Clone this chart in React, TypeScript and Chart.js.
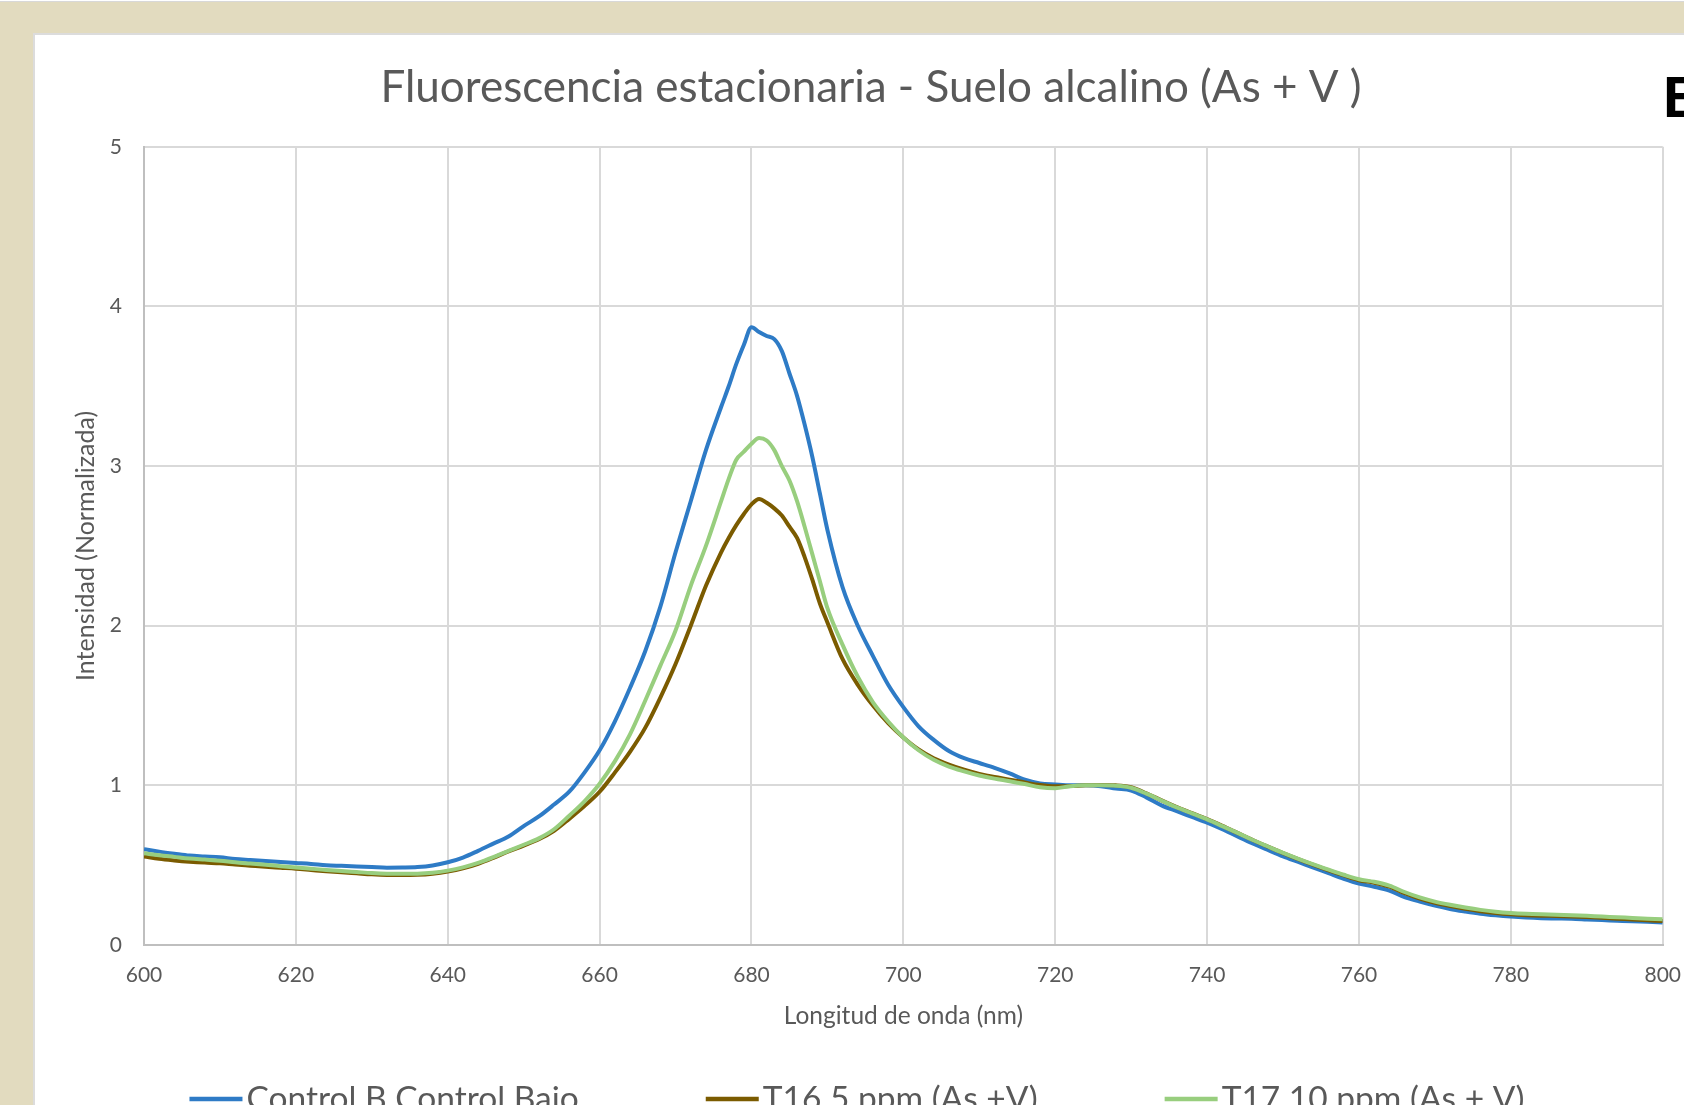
import React, { useEffect, useRef } from 'react';
import { Chart, registerables } from 'chart.js';
Chart.register(...registerables);

// Wavelength (nm)
const wavelengths = [
  600, 602, 604, 606, 608, 610, 612, 614, 616, 618, 620, 622, 624, 626, 628, 630, 632, 634, 636, 638,
  640, 642, 644, 646, 648, 650, 652, 654, 656, 658, 660, 662, 664, 666, 668, 670, 672, 674, 676,
  677, 678, 679, 680, 681, 682, 683, 684, 685, 686, 687, 688, 689, 690,
  692, 694, 696, 698, 700, 702, 704, 706, 708, 710, 712, 714, 716, 718, 720, 722, 724, 726, 728, 730,
  732, 734, 736, 738, 740, 742, 744, 746, 748, 750, 752, 754, 756, 758, 760, 762, 764, 766, 768, 770,
  772, 774, 776, 778, 780, 782, 784, 786, 788, 790, 792, 794, 796, 798, 800,
];

const controlBajo = [
  0.600, 0.585, 0.572, 0.560, 0.555, 0.550, 0.538, 0.532, 0.526, 0.520, 0.514, 0.508, 0.500, 0.496, 0.492, 0.488, 0.484, 0.485, 0.488, 0.498,
  0.518, 0.548, 0.590, 0.635, 0.680, 0.745, 0.805, 0.880, 0.960, 1.080, 1.220, 1.400, 1.610, 1.840, 2.120, 2.460, 2.780, 3.100, 3.370,
  3.500, 3.640, 3.760, 3.870, 3.840, 3.815, 3.795, 3.720, 3.580, 3.440, 3.260, 3.060, 2.830, 2.600,
  2.240, 2.000, 1.810, 1.630, 1.490, 1.370, 1.285, 1.215, 1.170, 1.140, 1.110, 1.075, 1.035, 1.012, 1.005, 1.000, 1.000, 0.995, 0.980, 0.968,
  0.925, 0.875, 0.838, 0.802, 0.766, 0.725, 0.680, 0.636, 0.595, 0.555, 0.520, 0.485, 0.450, 0.415, 0.385, 0.365, 0.340, 0.300, 0.272, 0.247,
  0.226, 0.210, 0.196, 0.186, 0.178, 0.172, 0.168, 0.166, 0.164, 0.160, 0.156, 0.152, 0.148, 0.145, 0.141,
];

const t16 = [
  0.555, 0.540, 0.530, 0.522, 0.516, 0.512, 0.504, 0.497, 0.490, 0.484, 0.478, 0.470, 0.462, 0.455, 0.449, 0.443, 0.439, 0.438, 0.440, 0.447,
  0.460, 0.480, 0.509, 0.546, 0.586, 0.623, 0.662, 0.715, 0.790, 0.870, 0.960, 1.080, 1.210, 1.360, 1.550, 1.760, 2.000, 2.250, 2.460,
  2.550, 2.630, 2.700, 2.760, 2.794, 2.770, 2.735, 2.690, 2.620, 2.550, 2.430, 2.290, 2.140, 2.020,
  1.790, 1.630, 1.500, 1.390, 1.300, 1.225, 1.170, 1.130, 1.098, 1.072, 1.052, 1.036, 1.018, 1.002, 0.994, 0.996, 1.000, 1.002, 1.000, 0.988,
  0.950, 0.906, 0.864, 0.826, 0.788, 0.746, 0.702, 0.658, 0.616, 0.576, 0.538, 0.502, 0.468, 0.436, 0.406, 0.390, 0.365, 0.325, 0.290, 0.264,
  0.244, 0.227, 0.212, 0.200, 0.192, 0.187, 0.184, 0.182, 0.179, 0.175, 0.170, 0.165, 0.160, 0.155, 0.150,
];

const t17 = [
  0.575, 0.562, 0.552, 0.542, 0.535, 0.528, 0.518, 0.510, 0.502, 0.494, 0.486, 0.478, 0.470, 0.463, 0.457, 0.451, 0.447, 0.446, 0.447, 0.453,
  0.466, 0.486, 0.514, 0.550, 0.590, 0.628, 0.668, 0.725, 0.810, 0.900, 1.010, 1.150, 1.320, 1.530, 1.750, 1.970, 2.250, 2.500, 2.780,
  2.920, 3.040, 3.090, 3.140, 3.176, 3.160, 3.100, 3.000, 2.910, 2.780, 2.620, 2.450, 2.280, 2.110,
  1.880, 1.680, 1.520, 1.400, 1.300, 1.220, 1.160, 1.118, 1.088, 1.062, 1.042, 1.026, 1.008, 0.988, 0.982, 0.995, 1.000, 1.000, 0.998, 0.985,
  0.948, 0.905, 0.862, 0.825, 0.787, 0.745, 0.702, 0.658, 0.617, 0.577, 0.540, 0.505, 0.472, 0.440, 0.412, 0.396, 0.372, 0.332, 0.298, 0.272,
  0.252, 0.235, 0.220, 0.208, 0.200, 0.195, 0.192, 0.190, 0.187, 0.183, 0.178, 0.174, 0.169, 0.165, 0.161,
];

const seriesLabels = ['Control B Control Bajo', 'T16 5 ppm (As +V)', 'T17 10 ppm (As + V)'];
const seriesColors = ['#2E7BC6', '#7B5B00', '#98CE7E'];

const titleText = 'Fluorescencia estacionaria - Suelo alcalino (As + V )';
const yTitle = 'Intensidad (Normalizada)';
const xTitle = 'Longitud de onda (nm)';

const FONT = 'Lato, "Open Sans", sans-serif';
const TEXT = '#595959';
const CANVAS_W = 1664;
const CANVAS_H = 1070;
const LEGEND_Y = 1064;

const legendPlugin = {
  id: 'customLegend',
  afterDraw(chart: any) {
    const ctx = chart.ctx;
    const ds = chart.data.datasets;
    ctx.save();
    ctx.font = `33.5px ${FONT}`;
    const lineW = 53;
    const gap = 4;
    const between = 127;
    const widths = ds.map((d: any) => lineW + gap + ctx.measureText(d.label).width);
    const total = widths.reduce((a: number, b: number) => a + b, 0) + between * (ds.length - 1);
    let x = chart.width / 2 - total / 2 - 10;
    ds.forEach((d: any, i: number) => {
      ctx.strokeStyle = d.borderColor;
      ctx.lineWidth = 4.5;
      ctx.beginPath();
      ctx.moveTo(x, LEGEND_Y);
      ctx.lineTo(x + lineW, LEGEND_Y);
      ctx.stroke();
      ctx.fillStyle = TEXT;
      ctx.textBaseline = 'middle';
      ctx.textAlign = 'left';
      ctx.fillText(d.label, x + lineW + gap, LEGEND_Y);
      x += widths[i] + between;
    });
    ctx.restore();
  },
};

export default function App() {
  const ref = useRef<HTMLCanvasElement | null>(null);

  useEffect(() => {
    if (!ref.current) return;
    const mk = (vals: number[]) => wavelengths.map((w, i) => ({ x: w, y: vals[i] }));
    const allVals = [controlBajo, t16, t17];
    const chart = new Chart(ref.current, {
      type: 'line',
      data: {
        datasets: allVals.map((vals, i) => ({
          label: seriesLabels[i],
          data: mk(vals),
          borderColor: seriesColors[i],
          backgroundColor: seriesColors[i],
          borderWidth: 4,
          pointRadius: 0,
          cubicInterpolationMode: 'monotone' as const,
          fill: false,
          order: 3 - i,
        })),
      },
      options: {
        responsive: false,
        animation: false,
        events: [],
        layout: { padding: { top: 0, left: 30, right: 22, bottom: 74 } },
        plugins: {
          legend: { display: false },
          tooltip: { enabled: false },
          title: {
            display: true,
            text: titleText,
            color: TEXT,
            font: { family: FONT, size: 44, weight: 'normal' },
            padding: { top: 26, bottom: 33 },
          },
        },
        scales: {
          x: {
            type: 'linear',
            min: 600,
            max: 800,
            ticks: { stepSize: 20, color: TEXT, font: { family: FONT, size: 21 }, padding: 18 },
            grid: { color: '#d9d9d9', lineWidth: 2, drawTicks: false },
            border: { display: true, color: '#bfbfbf', width: 2 },
            title: {
              display: true,
              text: xTitle,
              color: TEXT,
              font: { family: FONT, size: 24.5 },
              padding: { top: 10, bottom: 0 },
            },
            afterFit: (s: any) => { s.height = 86; },
          },
          y: {
            min: 0,
            max: 5,
            ticks: { stepSize: 1, color: TEXT, font: { family: FONT, size: 21 }, padding: 22 },
            grid: { color: '#d9d9d9', lineWidth: 2, drawTicks: false },
            border: { display: true, color: '#bfbfbf', width: 2 },
            title: {
              display: true,
              text: yTitle,
              color: TEXT,
              font: { family: FONT, size: 25 },
              padding: { top: 6, bottom: 0 },
            },
            afterFit: (s: any) => { s.width = 79; },
          },
        },
      },
      plugins: [legendPlugin],
    });
    return () => chart.destroy();
  }, []);

  return (
    <div style={{ position: 'fixed', left: 0, top: 0, width: 1684, height: 1105, overflow: 'hidden', background: '#E2DBBF' }}>
      <div style={{ position: 'absolute', left: 0, top: 0, width: 1684, height: 1, background: '#ffffff', borderBottom: '1px solid #d8d8d8' }} />
      <div style={{ position: 'absolute', left: 33, top: 33, width: 1700, height: 1100, background: '#ffffff', borderLeft: '2px solid #dcdcdc', borderTop: '2px solid #dcdcdc' }}>
        <canvas ref={ref} width={CANVAS_W} height={CANVAS_H} style={{ display: 'block', width: CANVAS_W, height: CANVAS_H }} />
      </div>
      <div style={{ position: 'absolute', left: 1663, top: 68, fontFamily: '"Liberation Sans", Arial, sans-serif', fontWeight: 'bold', fontSize: 58, lineHeight: '58px', color: '#000' }}>B</div>
    </div>
  );
}
